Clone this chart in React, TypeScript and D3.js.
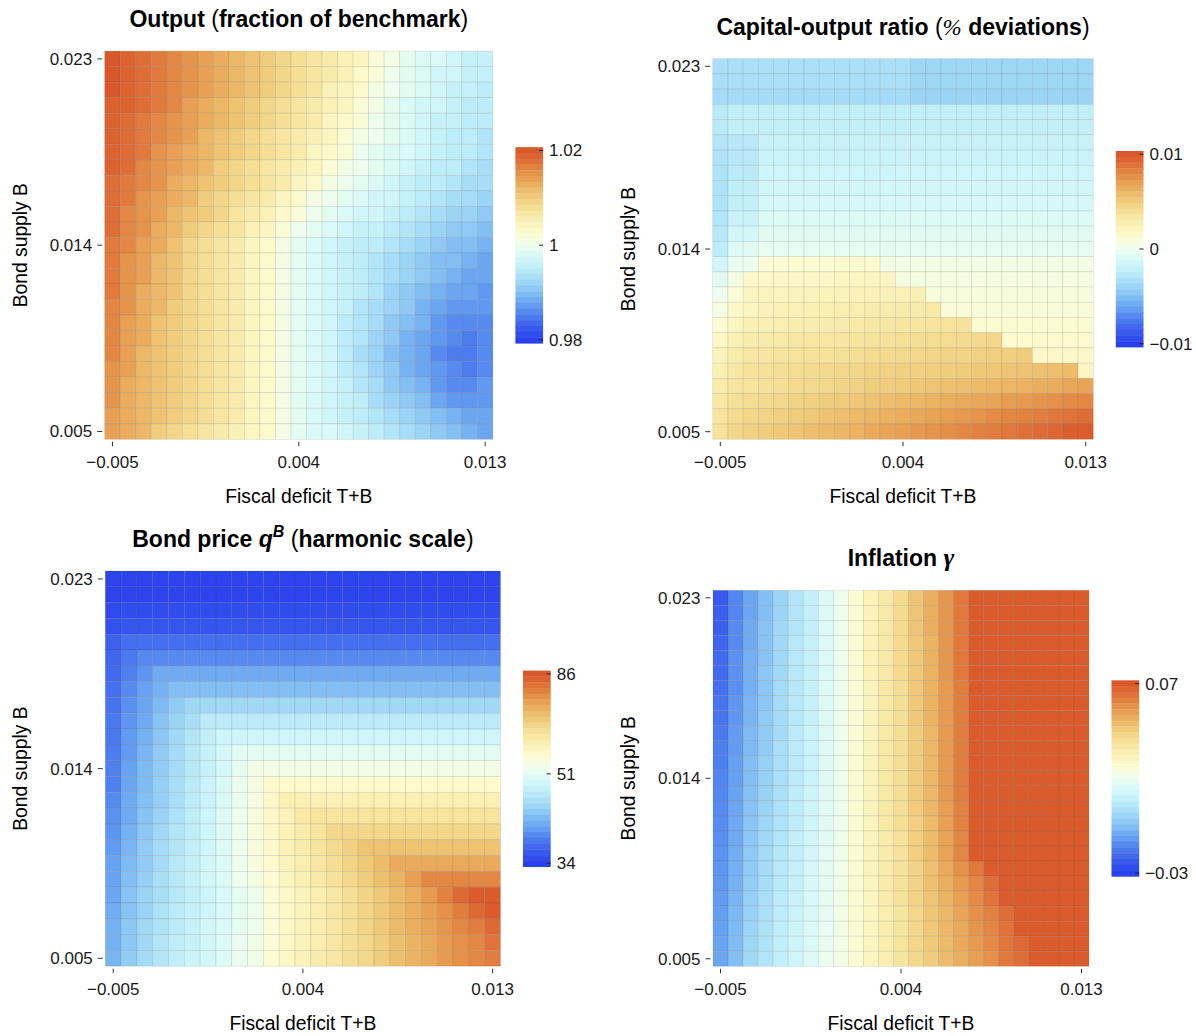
import React from "react";
import * as d3 from "d3";

// Grid of the experiment: fiscal deficit (columns) and bond supply (rows)
const FISCAL_DEFICIT = [
  -0.005, -0.00425, -0.0035, -0.00275, -0.002, -0.00125, -0.0005, 0.00025, 0.001,
  0.00175, 0.0025, 0.00325, 0.004, 0.00475, 0.0055, 0.00625, 0.007, 0.00775, 0.0085,
  0.00925, 0.01, 0.01075, 0.0115, 0.01225, 0.013,
];
// rows are listed from the top of the chart (B = 0.023) down to B = 0.005
const BOND_SUPPLY_TOP_DOWN = [
  0.023, 0.02225, 0.0215, 0.02075, 0.02, 0.01925, 0.0185, 0.01775, 0.017, 0.01625,
  0.0155, 0.01475, 0.014, 0.01325, 0.0125, 0.01175, 0.011, 0.01025, 0.0095, 0.00875,
  0.008, 0.00725, 0.0065, 0.00575, 0.005,
];
const X_TICKS = [-0.005, 0.004, 0.013];
const Y_TICKS = [0.023, 0.014, 0.005];

const PALETTE = [
  "#2A40EC", "#3A5BED", "#4C7CEE", "#66A0F1", "#83BFF3", "#A2D9F6", "#BDEDF8", "#D5F8F9",
  "#EDFEEE", "#FDFBD2", "#FAF1B6", "#F6E39C", "#F0CD7C", "#EAB362", "#E5944B", "#DF743A",
  "#D9572A",
];

const OUTPUT = [
  [1.020,1.019,1.018,1.017,1.016,1.015,1.014,1.013,1.012,1.011,1.010,1.009,1.008,1.007,1.006,1.005,1.004,1.002,1.001,0.999,0.998,0.998,0.997,0.996,0.996],
  [1.020,1.019,1.018,1.017,1.016,1.015,1.014,1.013,1.012,1.011,1.010,1.009,1.008,1.007,1.006,1.005,1.003,1.002,1.000,0.999,0.998,0.997,0.997,0.996,0.996],
  [1.020,1.019,1.018,1.017,1.016,1.015,1.014,1.013,1.012,1.011,1.010,1.009,1.008,1.007,1.005,1.004,1.003,1.001,1.000,0.999,0.998,0.997,0.996,0.996,0.995],
  [1.019,1.019,1.018,1.017,1.016,1.014,1.013,1.012,1.011,1.010,1.009,1.008,1.007,1.006,1.005,1.004,1.002,1.001,0.999,0.998,0.997,0.997,0.996,0.995,0.995],
  [1.019,1.018,1.017,1.016,1.015,1.014,1.013,1.012,1.011,1.010,1.009,1.008,1.007,1.006,1.004,1.003,1.002,1.000,0.999,0.998,0.997,0.996,0.996,0.995,0.995],
  [1.019,1.018,1.017,1.016,1.015,1.014,1.012,1.011,1.010,1.009,1.008,1.007,1.006,1.005,1.004,1.002,1.001,1.000,0.999,0.998,0.997,0.996,0.995,0.995,0.994],
  [1.019,1.018,1.017,1.015,1.014,1.013,1.012,1.011,1.010,1.009,1.008,1.007,1.006,1.004,1.003,1.002,1.000,0.999,0.998,0.998,0.997,0.996,0.995,0.995,0.994],
  [1.019,1.018,1.016,1.015,1.014,1.013,1.012,1.010,1.009,1.008,1.007,1.006,1.005,1.004,1.002,1.001,1.000,0.999,0.998,0.997,0.996,0.995,0.995,0.994,0.993],
  [1.018,1.017,1.016,1.015,1.013,1.012,1.011,1.010,1.009,1.008,1.007,1.006,1.004,1.003,1.001,1.000,0.999,0.998,0.997,0.996,0.995,0.995,0.994,0.993,0.993],
  [1.018,1.017,1.015,1.014,1.013,1.012,1.010,1.009,1.008,1.007,1.006,1.004,1.003,1.001,1.000,0.999,0.998,0.997,0.997,0.996,0.995,0.994,0.993,0.993,0.992],
  [1.018,1.016,1.015,1.014,1.012,1.011,1.010,1.009,1.007,1.006,1.005,1.003,1.002,1.000,0.999,0.998,0.997,0.997,0.996,0.995,0.994,0.993,0.992,0.992,0.991],
  [1.018,1.016,1.015,1.013,1.012,1.010,1.009,1.008,1.007,1.005,1.004,1.002,1.000,0.999,0.998,0.997,0.996,0.996,0.995,0.994,0.993,0.992,0.991,0.991,0.990],
  [1.017,1.016,1.014,1.013,1.011,1.009,1.008,1.007,1.006,1.004,1.003,1.001,0.999,0.998,0.997,0.996,0.995,0.995,0.994,0.993,0.992,0.991,0.990,0.990,0.989],
  [1.017,1.015,1.014,1.012,1.011,1.009,1.008,1.007,1.006,1.004,1.003,1.001,0.999,0.998,0.997,0.996,0.995,0.994,0.993,0.992,0.991,0.990,0.990,0.989,0.988],
  [1.017,1.015,1.014,1.012,1.011,1.009,1.008,1.007,1.006,1.004,1.003,1.001,0.999,0.998,0.997,0.996,0.995,0.994,0.993,0.992,0.991,0.990,0.989,0.988,0.988],
  [1.017,1.015,1.013,1.012,1.011,1.009,1.008,1.007,1.006,1.004,1.003,1.001,0.999,0.998,0.997,0.996,0.995,0.994,0.992,0.991,0.990,0.989,0.988,0.988,0.987],
  [1.016,1.015,1.013,1.012,1.010,1.009,1.008,1.007,1.006,1.004,1.003,1.001,0.999,0.998,0.997,0.996,0.994,0.993,0.992,0.991,0.989,0.988,0.987,0.987,0.987],
  [1.016,1.014,1.013,1.011,1.010,1.009,1.008,1.007,1.006,1.004,1.003,1.001,0.999,0.998,0.997,0.995,0.994,0.993,0.991,0.990,0.989,0.987,0.986,0.986,0.986],
  [1.016,1.014,1.013,1.011,1.010,1.009,1.008,1.007,1.006,1.004,1.003,1.001,0.999,0.998,0.997,0.995,0.994,0.992,0.991,0.989,0.988,0.987,0.986,0.985,0.986],
  [1.016,1.014,1.012,1.011,1.010,1.009,1.008,1.007,1.006,1.004,1.003,1.001,0.999,0.998,0.997,0.995,0.993,0.992,0.990,0.989,0.988,0.986,0.985,0.985,0.986],
  [1.015,1.014,1.012,1.011,1.010,1.009,1.008,1.007,1.006,1.004,1.003,1.001,0.999,0.998,0.997,0.995,0.994,0.992,0.991,0.989,0.988,0.987,0.986,0.985,0.986],
  [1.015,1.013,1.012,1.011,1.010,1.009,1.008,1.007,1.006,1.004,1.003,1.001,0.999,0.998,0.997,0.996,0.994,0.993,0.991,0.990,0.989,0.987,0.986,0.986,0.987],
  [1.015,1.013,1.012,1.011,1.010,1.009,1.008,1.007,1.006,1.004,1.003,1.001,0.999,0.998,0.997,0.996,0.995,0.993,0.992,0.991,0.990,0.988,0.987,0.987,0.987],
  [1.014,1.013,1.012,1.011,1.010,1.009,1.008,1.007,1.006,1.004,1.003,1.001,0.999,0.998,0.997,0.996,0.995,0.994,0.993,0.992,0.991,0.990,0.989,0.988,0.988],
  [1.014,1.013,1.012,1.010,1.009,1.008,1.007,1.006,1.005,1.004,1.003,1.001,0.999,0.998,0.998,0.997,0.996,0.995,0.994,0.993,0.992,0.991,0.990,0.989,0.988],
];

const CAPITAL_OUTPUT = [
  [-0.0034,-0.0034,-0.0034,-0.0034,-0.0034,-0.0034,-0.0034,-0.0034,-0.0034,-0.0034,-0.0034,-0.0034,-0.0034,-0.0039,-0.0039,-0.0039,-0.0039,-0.0039,-0.0039,-0.0039,-0.0039,-0.0039,-0.0039,-0.0039,-0.0039],
  [-0.0034,-0.0034,-0.0034,-0.0034,-0.0034,-0.0034,-0.0034,-0.0034,-0.0034,-0.0034,-0.0034,-0.0034,-0.0034,-0.0039,-0.0039,-0.0039,-0.0039,-0.0039,-0.0039,-0.0039,-0.0039,-0.0039,-0.0039,-0.0039,-0.0039],
  [-0.0036,-0.0036,-0.0036,-0.0036,-0.0036,-0.0036,-0.0036,-0.0036,-0.0036,-0.0036,-0.0036,-0.0036,-0.0036,-0.0040,-0.0040,-0.0040,-0.0040,-0.0040,-0.0040,-0.0040,-0.0040,-0.0040,-0.0040,-0.0040,-0.0040],
  [-0.0026,-0.0023,-0.0023,-0.0023,-0.0023,-0.0023,-0.0023,-0.0023,-0.0023,-0.0023,-0.0023,-0.0023,-0.0023,-0.0023,-0.0023,-0.0023,-0.0023,-0.0023,-0.0023,-0.0023,-0.0023,-0.0023,-0.0023,-0.0023,-0.0023],
  [-0.0027,-0.0022,-0.0022,-0.0022,-0.0022,-0.0022,-0.0022,-0.0022,-0.0022,-0.0022,-0.0022,-0.0022,-0.0022,-0.0022,-0.0022,-0.0022,-0.0022,-0.0022,-0.0022,-0.0022,-0.0022,-0.0022,-0.0022,-0.0022,-0.0022],
  [-0.0030,-0.0028,-0.0028,-0.0019,-0.0019,-0.0019,-0.0019,-0.0019,-0.0019,-0.0019,-0.0019,-0.0019,-0.0019,-0.0019,-0.0019,-0.0019,-0.0019,-0.0019,-0.0019,-0.0019,-0.0019,-0.0019,-0.0019,-0.0019,-0.0019],
  [-0.0031,-0.0028,-0.0028,-0.0018,-0.0018,-0.0018,-0.0018,-0.0018,-0.0018,-0.0018,-0.0018,-0.0018,-0.0018,-0.0018,-0.0018,-0.0018,-0.0018,-0.0018,-0.0018,-0.0018,-0.0018,-0.0018,-0.0018,-0.0018,-0.0018],
  [-0.0032,-0.0027,-0.0027,-0.0016,-0.0016,-0.0016,-0.0016,-0.0016,-0.0016,-0.0016,-0.0016,-0.0016,-0.0016,-0.0016,-0.0016,-0.0016,-0.0016,-0.0016,-0.0016,-0.0016,-0.0016,-0.0016,-0.0016,-0.0016,-0.0016],
  [-0.0032,-0.0024,-0.0024,-0.0014,-0.0014,-0.0014,-0.0014,-0.0014,-0.0014,-0.0014,-0.0014,-0.0014,-0.0014,-0.0014,-0.0014,-0.0014,-0.0014,-0.0014,-0.0014,-0.0014,-0.0014,-0.0014,-0.0014,-0.0014,-0.0014],
  [-0.0031,-0.0022,-0.0022,-0.0012,-0.0012,-0.0012,-0.0012,-0.0012,-0.0012,-0.0012,-0.0012,-0.0012,-0.0012,-0.0012,-0.0012,-0.0012,-0.0012,-0.0012,-0.0012,-0.0012,-0.0012,-0.0012,-0.0012,-0.0012,-0.0012],
  [-0.0030,-0.0019,-0.0019,-0.0009,-0.0009,-0.0009,-0.0009,-0.0009,-0.0009,-0.0009,-0.0009,-0.0009,-0.0009,-0.0009,-0.0009,-0.0009,-0.0009,-0.0009,-0.0009,-0.0009,-0.0009,-0.0009,-0.0009,-0.0009,-0.0009],
  [-0.0028,-0.0014,-0.0014,-0.0006,-0.0006,-0.0006,-0.0006,-0.0006,-0.0006,-0.0006,-0.0006,-0.0006,-0.0006,-0.0006,-0.0006,-0.0006,-0.0006,-0.0006,-0.0006,-0.0006,-0.0006,-0.0006,-0.0006,-0.0006,-0.0006],
  [-0.0025,-0.0008,-0.0006,-0.0003,-0.0003,-0.0003,-0.0003,-0.0003,-0.0003,-0.0003,-0.0003,-0.0003,-0.0003,-0.0003,-0.0003,-0.0003,-0.0003,-0.0003,-0.0003,-0.0003,-0.0003,-0.0003,-0.0003,-0.0003,-0.0003],
  [-0.0015,-0.0002,-0.0001,0.0012,0.0012,0.0013,0.0013,0.0013,0.0014,0.0014,0.0014,0.0004,0.0004,0.0004,0.0004,0.0004,0.0004,0.0004,0.0004,0.0004,0.0004,0.0004,0.0004,0.0004,0.0004],
  [-0.0006,0.0005,0.0016,0.0016,0.0017,0.0017,0.0018,0.0018,0.0019,0.0019,0.0020,0.0020,0.0006,0.0006,0.0006,0.0006,0.0006,0.0006,0.0006,0.0006,0.0006,0.0006,0.0006,0.0006,0.0006],
  [0.0000,0.0011,0.0020,0.0021,0.0021,0.0022,0.0022,0.0023,0.0023,0.0024,0.0024,0.0025,0.0025,0.0026,0.0008,0.0008,0.0008,0.0008,0.0008,0.0008,0.0008,0.0008,0.0008,0.0008,0.0008],
  [0.0006,0.0016,0.0020,0.0024,0.0025,0.0025,0.0026,0.0027,0.0028,0.0028,0.0029,0.0030,0.0031,0.0031,0.0032,0.0010,0.0010,0.0010,0.0010,0.0010,0.0010,0.0010,0.0010,0.0010,0.0010],
  [0.0012,0.0020,0.0026,0.0027,0.0028,0.0029,0.0029,0.0030,0.0031,0.0032,0.0033,0.0034,0.0035,0.0035,0.0036,0.0037,0.0038,0.0013,0.0013,0.0013,0.0013,0.0013,0.0013,0.0013,0.0013],
  [0.0018,0.0025,0.0030,0.0031,0.0032,0.0033,0.0034,0.0034,0.0035,0.0036,0.0037,0.0038,0.0039,0.0040,0.0041,0.0041,0.0042,0.0043,0.0044,0.0014,0.0014,0.0014,0.0014,0.0014,0.0014],
  [0.0022,0.0029,0.0034,0.0035,0.0036,0.0037,0.0038,0.0038,0.0039,0.0040,0.0041,0.0042,0.0043,0.0044,0.0045,0.0046,0.0046,0.0047,0.0048,0.0049,0.0050,0.0016,0.0016,0.0016,0.0016],
  [0.0026,0.0033,0.0038,0.0039,0.0040,0.0041,0.0042,0.0043,0.0044,0.0045,0.0046,0.0047,0.0048,0.0048,0.0049,0.0050,0.0051,0.0052,0.0053,0.0054,0.0055,0.0056,0.0057,0.0058,0.0019],
  [0.0030,0.0036,0.0037,0.0039,0.0040,0.0042,0.0043,0.0044,0.0046,0.0047,0.0049,0.0050,0.0051,0.0053,0.0054,0.0056,0.0057,0.0058,0.0060,0.0061,0.0063,0.0064,0.0065,0.0067,0.0068],
  [0.0033,0.0039,0.0041,0.0043,0.0044,0.0046,0.0048,0.0050,0.0051,0.0053,0.0055,0.0057,0.0059,0.0060,0.0062,0.0064,0.0066,0.0067,0.0069,0.0071,0.0073,0.0075,0.0076,0.0078,0.0080],
  [0.0035,0.0042,0.0044,0.0046,0.0048,0.0050,0.0052,0.0055,0.0057,0.0059,0.0061,0.0063,0.0065,0.0067,0.0069,0.0071,0.0073,0.0075,0.0078,0.0080,0.0082,0.0084,0.0086,0.0088,0.0090],
  [0.0038,0.0045,0.0047,0.0050,0.0052,0.0054,0.0057,0.0059,0.0061,0.0063,0.0066,0.0068,0.0070,0.0073,0.0075,0.0077,0.0080,0.0082,0.0084,0.0086,0.0089,0.0091,0.0093,0.0096,0.0098],
];

const BOND_PRICE = [
  [34.2,34.2,34.2,34.2,34.2,34.2,34.2,34.2,34.2,34.2,34.2,34.2,34.2,34.2,34.2,34.2,34.2,34.2,34.2,34.2,34.2,34.2,34.2,34.2,34.2],
  [34.2,34.2,34.2,34.2,34.2,34.2,34.2,34.2,34.2,34.2,34.2,34.2,34.2,34.2,34.2,34.2,34.2,34.2,34.2,34.2,34.2,34.2,34.2,34.2,34.2],
  [34.5,34.7,34.7,34.7,34.7,34.7,34.7,34.7,34.7,34.7,34.7,34.7,34.7,34.7,34.7,34.7,34.7,34.7,34.7,34.7,34.7,34.7,34.7,34.7,34.7],
  [35.0,35.2,35.2,35.2,35.2,35.2,35.2,35.2,35.2,35.2,35.2,35.2,35.2,35.2,35.2,35.2,35.2,35.2,35.2,35.2,35.2,35.2,35.2,35.2,35.2],
  [35.8,36.6,36.6,36.6,36.6,36.6,36.6,36.6,36.6,36.6,36.6,36.6,36.6,36.6,36.6,36.6,36.6,36.6,36.6,36.6,36.6,36.6,36.6,36.6,36.6],
  [36.1,37.1,38.0,38.0,38.0,38.0,38.0,38.0,38.0,38.0,38.0,38.0,38.0,38.0,38.0,38.0,38.0,38.0,38.0,38.0,38.0,38.0,38.0,38.0,38.0],
  [36.3,37.5,38.6,39.9,39.9,39.9,39.9,39.9,39.9,39.9,39.9,39.9,39.9,39.9,39.9,39.9,39.9,39.9,39.9,39.9,39.9,39.9,39.9,39.9,39.9],
  [36.6,38.0,39.3,40.3,41.3,41.3,41.3,41.3,41.3,41.3,41.3,41.3,41.3,41.3,41.3,41.3,41.3,41.3,41.3,41.3,41.3,41.3,41.3,41.3,41.3],
  [36.8,38.3,39.6,41.0,42.4,43.5,43.5,43.5,43.5,43.5,43.5,43.5,43.5,43.5,43.5,43.5,43.5,43.5,43.5,43.5,43.5,43.5,43.5,43.5,43.5],
  [37.1,38.6,39.9,41.6,43.1,44.3,46.0,46.0,46.0,46.0,46.0,46.0,46.0,46.0,46.0,46.0,46.0,46.0,46.0,46.0,46.0,46.0,46.0,46.0,46.0],
  [37.1,38.9,40.3,42.0,43.5,45.2,46.9,48.3,48.3,48.3,48.3,48.3,48.3,48.3,48.3,48.3,48.3,48.3,48.3,48.3,48.3,48.3,48.3,48.3,48.3],
  [37.3,38.9,40.6,42.4,43.9,45.6,47.4,49.3,50.9,50.9,50.9,50.9,50.9,50.9,50.9,50.9,50.9,50.9,50.9,50.9,50.9,50.9,50.9,50.9,50.9],
  [37.5,39.3,41.0,42.4,43.9,45.6,47.4,49.3,51.4,53.0,53.0,53.0,53.0,53.0,53.0,53.0,53.0,53.0,53.0,53.0,53.0,53.0,53.0,53.0,53.0],
  [37.5,39.6,41.0,42.7,44.3,46.0,47.9,49.8,51.8,53.4,55.2,55.2,55.2,55.2,55.2,55.2,55.2,55.2,55.2,55.2,55.2,55.2,55.2,55.2,55.2],
  [38.0,39.9,41.3,42.7,44.3,46.0,47.9,49.8,51.8,53.4,55.7,58.1,58.1,58.1,58.1,58.1,58.1,58.1,58.1,58.1,58.1,58.1,58.1,58.1,58.1],
  [38.3,39.9,41.6,43.1,44.8,46.5,48.3,50.3,52.1,53.8,55.7,57.6,59.7,60.8,60.8,60.8,60.8,60.8,60.8,60.8,60.8,60.8,60.8,60.8,60.8],
  [38.6,40.3,42.0,43.5,45.2,46.5,48.3,50.3,52.1,53.8,55.7,57.6,59.1,60.8,63.1,63.1,63.1,63.1,63.1,63.1,63.1,63.1,63.1,63.1,63.1],
  [38.9,40.6,42.4,43.9,45.2,46.9,48.3,50.3,52.1,53.8,55.7,57.6,59.1,60.8,62.5,64.3,66.3,66.3,66.3,66.3,66.3,66.3,66.3,66.3,66.3],
  [39.3,41.0,42.4,43.9,45.6,46.9,48.8,50.3,52.1,53.8,55.2,57.1,58.6,60.2,61.9,63.7,65.6,67.6,70.5,70.5,70.5,70.5,70.5,70.5,70.5],
  [39.3,41.3,42.7,44.3,45.6,47.4,48.8,50.3,52.1,53.4,54.7,56.6,58.1,59.7,61.3,63.1,64.9,66.9,69.0,72.0,76.1,76.1,76.1,76.1,76.1],
  [39.6,41.6,43.1,44.3,45.6,46.9,48.3,49.8,51.4,52.5,54.3,55.7,57.1,58.6,60.2,61.9,63.7,65.6,67.6,69.8,72.8,77.0,81.7,84.9,84.9],
  [40.0,41.6,43.1,44.8,46.0,47.4,48.3,49.8,51.4,52.5,54.3,55.7,57.1,58.6,60.2,61.9,63.7,65.6,67.6,69.8,72.0,74.4,77.9,81.7,84.9],
  [40.3,42.0,43.5,44.8,46.0,47.4,48.8,49.8,51.4,52.5,54.3,55.7,57.1,58.6,60.2,61.9,63.7,65.6,67.6,69.8,71.2,73.6,76.1,77.9,81.7],
  [40.3,42.0,43.5,45.2,46.5,47.4,48.8,50.3,51.8,53.0,54.3,55.7,57.1,58.6,60.2,61.9,63.1,64.9,66.9,69.0,70.5,72.8,74.4,76.1,79.7],
  [40.6,42.4,43.9,45.2,46.5,47.9,48.8,50.3,51.8,53.0,54.7,56.1,57.6,59.1,60.2,61.9,63.1,64.9,66.9,69.0,70.5,72.8,74.4,76.1,77.9],
];

const INFLATION = [
  [-0.024,-0.016,-0.010,-0.005,0.000,0.005,0.009,0.015,0.020,0.026,0.032,0.036,0.041,0.047,0.052,0.057,0.063,0.069,0.069,0.069,0.069,0.069,0.069,0.069,0.069],
  [-0.023,-0.016,-0.010,-0.005,0.000,0.005,0.009,0.015,0.020,0.026,0.032,0.036,0.041,0.047,0.052,0.057,0.063,0.069,0.069,0.069,0.069,0.069,0.069,0.069,0.069],
  [-0.023,-0.015,-0.009,-0.004,0.001,0.005,0.009,0.015,0.020,0.026,0.032,0.036,0.041,0.047,0.052,0.057,0.063,0.069,0.069,0.069,0.069,0.069,0.069,0.069,0.069],
  [-0.022,-0.015,-0.009,-0.004,0.001,0.006,0.010,0.015,0.020,0.026,0.032,0.036,0.041,0.046,0.051,0.057,0.063,0.069,0.069,0.069,0.069,0.069,0.069,0.069,0.069],
  [-0.021,-0.014,-0.008,-0.004,0.001,0.006,0.010,0.015,0.020,0.026,0.032,0.036,0.041,0.046,0.051,0.057,0.063,0.069,0.069,0.069,0.069,0.069,0.069,0.069,0.069],
  [-0.021,-0.014,-0.008,-0.003,0.001,0.006,0.010,0.015,0.020,0.026,0.032,0.036,0.041,0.046,0.051,0.057,0.063,0.069,0.069,0.069,0.069,0.069,0.069,0.069,0.069],
  [-0.020,-0.014,-0.008,-0.003,0.002,0.006,0.010,0.016,0.020,0.026,0.031,0.036,0.040,0.046,0.051,0.056,0.062,0.069,0.069,0.069,0.069,0.069,0.069,0.069,0.069],
  [-0.019,-0.013,-0.007,-0.003,0.002,0.006,0.010,0.016,0.020,0.026,0.031,0.036,0.040,0.046,0.051,0.056,0.062,0.069,0.069,0.069,0.069,0.069,0.069,0.069,0.069],
  [-0.019,-0.013,-0.007,-0.002,0.002,0.006,0.010,0.016,0.020,0.026,0.031,0.036,0.040,0.046,0.051,0.056,0.062,0.069,0.069,0.069,0.069,0.069,0.069,0.069,0.069],
  [-0.018,-0.012,-0.006,-0.002,0.002,0.007,0.011,0.016,0.020,0.026,0.031,0.036,0.040,0.045,0.050,0.056,0.062,0.069,0.069,0.069,0.069,0.069,0.069,0.069,0.069],
  [-0.017,-0.012,-0.006,-0.002,0.003,0.007,0.011,0.016,0.020,0.026,0.031,0.036,0.040,0.045,0.050,0.056,0.062,0.069,0.069,0.069,0.069,0.069,0.069,0.069,0.069],
  [-0.017,-0.011,-0.005,-0.001,0.003,0.007,0.011,0.016,0.020,0.026,0.031,0.036,0.040,0.045,0.050,0.056,0.062,0.069,0.069,0.069,0.069,0.069,0.069,0.069,0.069],
  [-0.016,-0.011,-0.005,-0.001,0.003,0.007,0.011,0.016,0.020,0.026,0.031,0.036,0.040,0.045,0.050,0.056,0.062,0.069,0.069,0.069,0.069,0.069,0.069,0.069,0.069],
  [-0.0155,-0.0105,-0.0045,-0.0005,0.0035,0.0074,0.0114,0.0163,0.0202,0.026,0.031,0.036,0.040,0.045,0.050,0.056,0.062,0.069,0.069,0.069,0.069,0.069,0.069,0.069,0.069],
  [-0.015,-0.010,-0.004,0.000,0.004,0.0078,0.0118,0.0165,0.0203,0.026,0.031,0.036,0.040,0.045,0.050,0.055,0.061,0.069,0.069,0.069,0.069,0.069,0.069,0.069,0.069],
  [-0.0145,-0.0095,-0.0035,0.0005,0.0045,0.0083,0.0123,0.0168,0.0205,0.026,0.031,0.036,0.040,0.044,0.049,0.055,0.061,0.069,0.069,0.069,0.069,0.069,0.069,0.069,0.069],
  [-0.014,-0.009,-0.003,0.001,0.005,0.0087,0.0127,0.017,0.0207,0.026,0.031,0.035,0.039,0.044,0.049,0.054,0.060,0.069,0.069,0.069,0.069,0.069,0.069,0.069,0.069],
  [-0.0135,-0.0085,-0.0025,0.0015,0.0055,0.0091,0.0131,0.0173,0.0208,0.026,0.031,0.035,0.039,0.044,0.049,0.054,0.060,0.069,0.069,0.069,0.069,0.069,0.069,0.069,0.069],
  [-0.013,-0.008,-0.002,0.002,0.006,0.0095,0.0135,0.0175,0.021,0.026,0.031,0.035,0.039,0.043,0.048,0.053,0.058,0.063,0.069,0.069,0.069,0.069,0.069,0.069,0.069],
  [-0.0125,-0.0075,-0.0015,0.0025,0.0065,0.0099,0.0139,0.0178,0.0212,0.026,0.030,0.035,0.039,0.043,0.048,0.052,0.056,0.060,0.065,0.069,0.069,0.069,0.069,0.069,0.069],
  [-0.012,-0.007,-0.001,0.003,0.007,0.0103,0.0143,0.018,0.0213,0.026,0.030,0.035,0.039,0.043,0.047,0.051,0.055,0.059,0.064,0.069,0.069,0.069,0.069,0.069,0.069],
  [-0.0115,-0.0065,-0.0005,0.0035,0.0075,0.0108,0.0148,0.0183,0.0215,0.026,0.030,0.034,0.038,0.042,0.047,0.050,0.054,0.058,0.061,0.065,0.069,0.069,0.069,0.069,0.069],
  [-0.011,-0.006,0.000,0.004,0.008,0.0112,0.0152,0.0185,0.0217,0.026,0.030,0.034,0.038,0.042,0.046,0.050,0.053,0.057,0.060,0.064,0.069,0.069,0.069,0.069,0.069],
  [-0.0105,-0.0055,0.0005,0.0045,0.0085,0.0116,0.0156,0.0188,0.0218,0.026,0.030,0.034,0.038,0.042,0.046,0.049,0.053,0.056,0.059,0.063,0.066,0.069,0.069,0.069,0.069],
  [-0.010,-0.005,0.001,0.005,0.009,0.012,0.016,0.019,0.022,0.026,0.030,0.034,0.038,0.042,0.045,0.049,0.052,0.055,0.058,0.063,0.065,0.069,0.069,0.069,0.069],
];

const OUTPUT_LEGEND = [1.02, 1, 0.98];
const OUTPUT_LEGEND_LABELS = ["1.02", "1", "0.98"];
const CAPITAL_LEGEND = [0.01, 0, -0.01];
const CAPITAL_LEGEND_LABELS = ["0.01", "0", "\u22120.01"];
const BOND_LEGEND = [86, 51, 34];
const BOND_LEGEND_LABELS = ["86", "51", "34"];
const INFLATION_LEGEND = [0.07, -0.03];
const INFLATION_LEGEND_LABELS = ["0.07", "\u22120.03"];

const FONT = "'Liberation Sans', Arial, Helvetica, sans-serif";
const SERIF = "'Liberation Serif', 'DejaVu Serif', serif";

const colorOf = d3
  .scaleLinear<string>()
  .domain(PALETTE.map((_, i) => i / (PALETTE.length - 1)))
  .range(PALETTE)
  .interpolate(d3.interpolateRgb)
  .clamp(true);

const outputT = d3.scaleLinear().domain([0.98, 1.02]).range([0, 1]).clamp(true);
const capitalT = d3.scaleLinear().domain([-0.01, 0.01]).range([0, 1]).clamp(true);
const bondHarmonic = d3.scaleLinear().domain([1 / 34, 1 / 51, 1 / 86]).range([0, 0.472, 1]).clamp(true);
const bondT = (v: number) => bondHarmonic(1 / v);
const inflationT = d3.scaleLinear().domain([-0.03, 0.07]).range([0, 1]).clamp(true);

const fmt = d3.format(".3f");

type PanelProps = {
  left: number;
  top: number;
  size: number;
  data: number[][];
  toT: (v: number) => number;
  title: React.ReactNode;
  legendValues: number[];
  legendLabels: string[];
};

function Panel({ left, top, size, data, toT, title, legendValues, legendLabels }: PanelProps) {
  const x = d3.scaleBand<number>().domain(FISCAL_DEFICIT).range([left, left + size]);
  const y = d3.scaleBand<number>().domain(BOND_SUPPLY_TOP_DOWN).range([top, top + size]);
  const bw = x.bandwidth();
  const bh = y.bandwidth();
  const bottom = top + size;
  const right = left + size;
  const cx = left + size / 2;
  const cy = top + size / 2;

  const barW = 27.7;
  const barH = 196;
  const barLeft = right + 22.5;
  const barTop = cy - barH / 2;
  const barBottom = barTop + barH;
  const pad = 3.3;
  const legendY = d3.scaleLinear().domain([0, 1]).range([barBottom - pad, barTop + pad]);
  const nBands = 34;
  const bands = d3.range(nBands).map((k) => {
    const y0 = barTop + (k * barH) / nBands;
    const y1 = barTop + ((k + 1) * barH) / nBands;
    const t = Math.max(0, Math.min(1, legendY.invert((y0 + y1) / 2)));
    return { y0, y1, t };
  });

  return (
    <g>
      <text x={cx} y={top - 24} textAnchor="middle" fontFamily={FONT} fontSize={23} fontWeight="bold" fill="#000">
        {title}
      </text>
      {data.map((row, i) =>
        row.map((v, j) => (
          <rect
            key={`${i}-${j}`}
            x={x(FISCAL_DEFICIT[j])}
            y={y(BOND_SUPPLY_TOP_DOWN[i])}
            width={bw}
            height={bh}
            fill={colorOf(toT(v))}
            stroke="rgba(40,40,40,0.13)"
            strokeWidth={0.7}
          />
        ))
      )}
      {Y_TICKS.map((v) => {
        const yy = (y(v) as number) + bh / 2;
        return (
          <g key={`yt${v}`}>
            <line x1={left - 7.5} x2={left - 2.5} y1={yy} y2={yy} stroke="#333" strokeWidth={1} />
            <text x={left - 12.5} y={yy} dy="0.35em" textAnchor="end" fontFamily={FONT} fontSize={17} fill="#1a1a1a">
              {fmt(v)}
            </text>
          </g>
        );
      })}
      {X_TICKS.map((v) => {
        const xx = (x(v) as number) + bw / 2;
        return (
          <g key={`xt${v}`}>
            <line x1={xx} x2={xx} y1={bottom + 2.5} y2={bottom + 7} stroke="#333" strokeWidth={1} />
            <text x={xx} y={bottom + 28.5} textAnchor="middle" fontFamily={FONT} fontSize={17} fill="#1a1a1a">
              {fmt(v)}
            </text>
          </g>
        );
      })}
      <text x={cx} y={bottom + 64} textAnchor="middle" fontFamily={FONT} fontSize={19.3} fill="#000">
        Fiscal deficit T+B
      </text>
      <text
        transform={`translate(${left - 78},${cy}) rotate(-90)`}
        textAnchor="middle"
        fontFamily={FONT}
        fontSize={19.3}
        fill="#000"
      >
        Bond supply B
      </text>
      {bands.map((b, k) => (
        <rect key={`b${k}`} x={barLeft} y={b.y0} width={barW} height={b.y1 - b.y0 + 0.4} fill={colorOf(b.t)} />
      ))}
      {legendValues.map((v, k) => {
        const yy = legendY(toT(v));
        return (
          <g key={`lg${k}`}>
            <line x1={barLeft + barW - 4} x2={barLeft + barW} y1={yy} y2={yy} stroke="#222" strokeWidth={1} />
            <text x={barLeft + barW + 6} y={yy} dy="0.35em" fontFamily={FONT} fontSize={17} fill="#1a1a1a">
              {legendLabels[k]}
            </text>
          </g>
        );
      })}
    </g>
  );
}

export default function App() {
  return (
    <svg
      width={1196}
      height={1036}
      viewBox="0 0 1196 1036"
      style={{ position: "absolute", left: 0, top: 0, background: "#fff" }}
    >
      <rect x={0} y={0} width={1196} height={1036} fill="#fff" />
      <Panel
        left={104.7}
        top={51.1}
        size={388.2}
        data={OUTPUT}
        toT={outputT}
        legendValues={OUTPUT_LEGEND}
        legendLabels={OUTPUT_LEGEND_LABELS}
        title={
          <>
            <tspan>Output </tspan>
            <tspan fontWeight="normal">(</tspan>
            <tspan>fraction of benchmark</tspan>
            <tspan fontWeight="normal">)</tspan>
          </>
        }
      />
      <Panel
        left={712.7}
        top={58.7}
        size={380.6}
        data={CAPITAL_OUTPUT}
        toT={capitalT}
        legendValues={CAPITAL_LEGEND}
        legendLabels={CAPITAL_LEGEND_LABELS}
        title={
          <>
            <tspan>Capital-output ratio </tspan>
            <tspan fontWeight="normal">(</tspan>
            <tspan fontWeight="normal" fontFamily={SERIF} fontStyle="italic">%</tspan>
            <tspan> deviations</tspan>
            <tspan fontWeight="normal">)</tspan>
          </>
        }
      />
      <Panel
        left={105.3}
        top={571}
        size={395.2}
        data={BOND_PRICE}
        toT={bondT}
        legendValues={BOND_LEGEND}
        legendLabels={BOND_LEGEND_LABELS}
        title={
          <>
            <tspan>Bond price </tspan>
            <tspan fontStyle="italic">q</tspan>
            <tspan fontStyle="italic" fontSize={16} dy={-10}>B</tspan>
            <tspan dy={10}> </tspan>
            <tspan fontWeight="normal">(</tspan>
            <tspan>harmonic scale</tspan>
            <tspan fontWeight="normal">)</tspan>
          </>
        }
      />
      <Panel
        left={713}
        top={590.3}
        size={376}
        data={INFLATION}
        toT={inflationT}
        legendValues={INFLATION_LEGEND}
        legendLabels={INFLATION_LEGEND_LABELS}
        title={
          <>
            <tspan>Inflation </tspan>
            <tspan fontFamily={SERIF} fontStyle="italic" fontSize={26}>γ</tspan>
          </>
        }
      />
    </svg>
  );
}
